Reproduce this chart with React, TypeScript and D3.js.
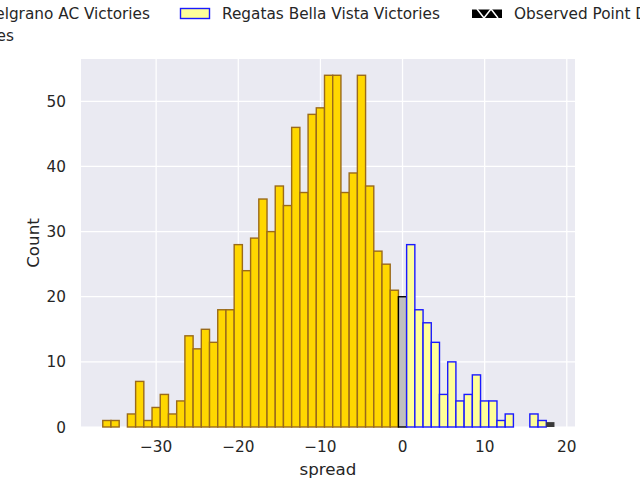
import * as d3 from 'd3';

// histogram bins (integer centers) and counts
const belgranoBins = [-36, -35, -34, -33, -32, -31, -30, -29, -28, -27, -26, -25, -24, -23, -22, -21, -20, -19, -18, -17, -16, -15, -14, -13, -12, -11, -10, -9, -8, -7, -6, -5, -4, -3, -2, -1];
const belgranoCounts = [1, 1, 0, 2, 7, 1, 3, 5, 2, 4, 14, 12, 15, 13, 18, 18, 28, 24, 29, 35, 30, 37, 34, 46, 36, 48, 49, 54, 54, 36, 39, 54, 37, 27, 25, 21];
const tieBins = [0];
const tieCounts = [20];
const regatasBins = [1, 2, 3, 4, 5, 6, 7, 8, 9, 10, 11, 12, 13, 14, 15, 16, 17];
const regatasCounts = [28, 18, 16, 13, 5, 10, 4, 5, 8, 4, 4, 1, 2, 0, 0, 2, 1];
const observedBins = [18];
const observedCounts = [0.75];

const xTicks = [-30, -20, -10, 0, 10, 20];
const yTicks = [0, 10, 20, 30, 40, 50];

const W = 640;
const H = 480;
const plot = { left: 81, right: 575, top: 59, bottom: 427 };
const font = 'DejaVu Sans, sans-serif';
const ink = '#262626';

export default function App() {
  const x = d3.scaleLinear().domain([-39.15, 21.0]).range([plot.left, plot.right]);
  const y = d3.scaleLinear().domain([0, 56.5]).range([plot.bottom, plot.top]);
  const fmt = (v: number) => (v < 0 ? '\u2212' + Math.abs(v) : String(v));

  const bars = (bins: number[], counts: number[], fill: string, stroke: string, sw: number, key: string) =>
    bins.map((b, i) =>
      counts[i] > 0 ? (
        <rect
          key={key + b}
          x={x(b - 0.5)}
          y={y(counts[i])}
          width={x(b + 0.5) - x(b - 0.5)}
          height={y(0) - y(counts[i])}
          fill={fill}
          stroke={stroke}
          strokeWidth={sw}
        />
      ) : null
    );

  return (
    <svg width={W} height={H} style={{ position: 'absolute', left: 0, top: 0 }} fontFamily={font}>
      <rect x={0} y={0} width={W} height={H} fill="#ffffff" />
      <rect x={plot.left} y={plot.top} width={plot.right - plot.left} height={plot.bottom - plot.top} fill="#eaeaf2" />
      {xTicks.map((t) => (
        <line key={'gx' + t} x1={x(t)} x2={x(t)} y1={plot.top} y2={plot.bottom} stroke="#fff" strokeWidth={1.25} />
      ))}
      {yTicks.map((t) => (
        <line key={'gy' + t} x1={plot.left} x2={plot.right} y1={y(t)} y2={y(t)} stroke="#fff" strokeWidth={1.25} />
      ))}
      {bars(belgranoBins, belgranoCounts, '#ffd700', '#9a6a1a', 1.4, 'b')}
      {bars(tieBins, tieCounts, '#c0c0c0', '#000000', 1.4, 't')}
      {bars(regatasBins, regatasCounts, '#ffff99', '#1a1aff', 1.4, 'r')}
      {bars(observedBins, observedCounts, '#3a3a3a', 'none', 0, 'o')}

      {xTicks.map((t) => (
        <text key={'tx' + t} x={x(t)} y={452} textAnchor="middle" fontSize={15.3} fill={ink}>
          {fmt(t)}
        </text>
      ))}
      {yTicks.map((t) => (
        <text key={'ty' + t} x={66} y={y(t) + 5.5} textAnchor="end" fontSize={15.3} fill={ink}>
          {t}
        </text>
      ))}
      <text x={(plot.left + plot.right) / 2} y={475} textAnchor="middle" fontSize={16.7} fill={ink}>
        spread
      </text>
      <text transform={`translate(39,${(plot.top + plot.bottom) / 2}) rotate(-90)`} textAnchor="middle" fontSize={16.7} fill={ink}>
        Count
      </text>

      {/* legend, 3 columns, spills past the figure edges */}
      <rect x={-50} y={8.5} width={29} height={10} fill="#ffd700" stroke="#9a6a1a" />
      <text x={150} y={18.5} textAnchor="end" fontSize={15.3} fill={ink}>
        Belgrano AC Victories
      </text>
      <rect x={-50} y={30.5} width={29} height={10} fill="#c0c0c0" stroke="#000" />
      <text x={14} y={40.5} textAnchor="end" fontSize={15.3} fill={ink}>
        Ties
      </text>
      <rect x={180.5} y={8.5} width={29} height={10} fill="#ffff99" stroke="#1a1aff" strokeWidth={1.4} />
      <text x={222} y={18.5} fontSize={15.3} fill={ink}>
        Regatas Bella Vista Victories
      </text>
      <rect x={472} y={9} width={30} height={9} fill="#000" />
      <polyline points="472,9 502,9" stroke="#fff" strokeWidth={1} fill="none" />
      <polyline points="477,9 484,18 491,9 498,18" stroke="#fff" strokeWidth={1.5} fill="none" />
      <text x={514} y={18.5} fontSize={15.3} fill={ink}>
        Observed Point Differences
      </text>
    </svg>
  );
}
